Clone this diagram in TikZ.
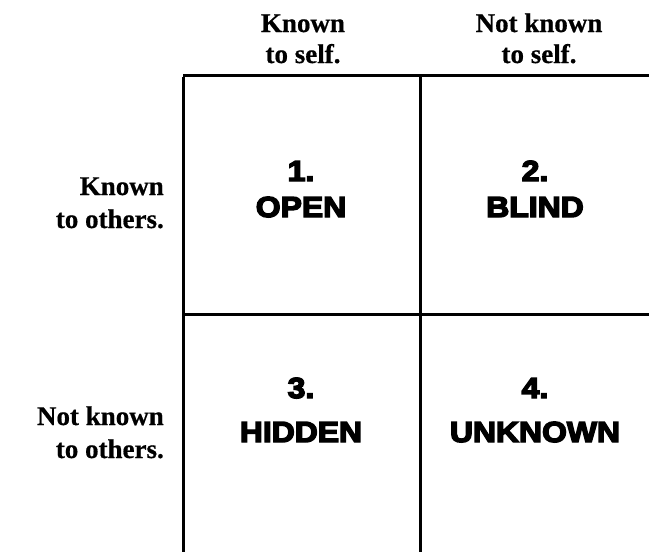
\documentclass[tikz,border=0pt]{standalone}
\usepackage{fontspec}
\setmainfont{Liberation Serif}[BoldFeatures={FakeBold=0.6}]
\newfontfamily\cellfont[FakeBold=5,FakeStretch=1.1]{Liberation Sans Bold}
\begin{document}
\begin{tikzpicture}[x=1pt,y=-1pt,
  grid/.style={line width=3pt,black},
  head/.style={font=\fontsize{27}{31}\selectfont\bfseries,inner sep=0pt,anchor=base},
  side/.style={font=\fontsize{27}{31}\selectfont\bfseries,inner sep=0pt,anchor=base east},
  cell/.style={font=\fontsize{29}{34}\selectfont\cellfont,inner sep=0pt,anchor=base}]
\useasboundingbox[fill=white] (0,0) rectangle (649,552);
% grid corners
\coordinate (tl) at (183,75);
\coordinate (tm) at (420,75);
\coordinate (tr) at (652,75);
\coordinate (ml) at (183,314);
\coordinate (mr) at (652,314);
\coordinate (bl) at (183,555);
\coordinate (bm) at (420,555);
\draw[grid] (tl) -- (tr);
\draw[grid] (ml) -- (mr);
\draw[grid] ([yshift=-1.5pt]tl) -- (bl);
\draw[grid] ([yshift=-1.5pt]tm) -- (bm);
% column headers
\node[head] (h1a) at (303,32) {Known};
\node[head] (h1b) at (303,63) {to self.};
\node[head] (h2a) at (539,32) {Not known};
\node[head] (h2b) at (539,63) {to self.};
% row headers
\node[side] (r1a) at (164,195) {Known};
\node[side] (r1b) at (164,228) {to others.};
\node[side] (r2a) at (164,425) {Not known};
\node[side] (r2b) at (164,458) {to others.};
% cells
\node[cell] (c1n) at (301,181) {1.};
\node[cell] (c1t) at (301,217) {OPEN};
\node[cell] (c2n) at (535,181) {2.};
\node[cell] (c2t) at (535,217) {BLIND};
\node[cell] (c3n) at (301,398) {3.};
\node[cell] (c3t) at (301,442) {HIDDEN};
\node[cell] (c4n) at (535,398) {4.};
\node[cell] (c4t) at (535,442) {UNKNOWN};
\end{tikzpicture}
\end{document}
